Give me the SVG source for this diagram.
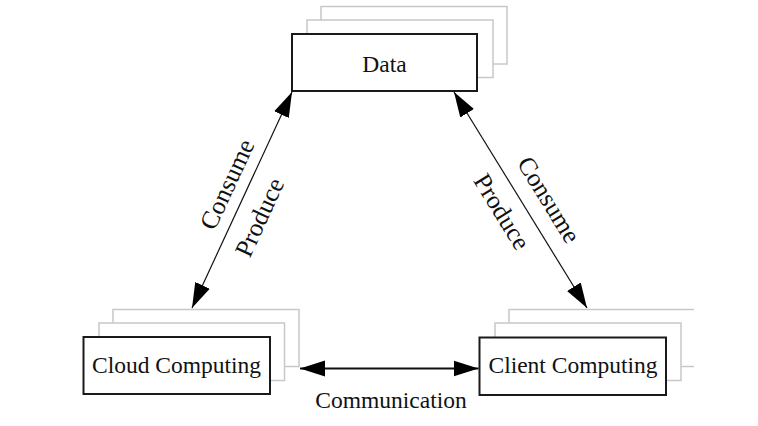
<svg xmlns="http://www.w3.org/2000/svg" width="758" height="426" viewBox="0 0 758 426">
<style>
.back{fill:#fff;stroke:#c8c8c8;stroke-width:1.5}
.main{fill:#fff;stroke:#1a1a1a;stroke-width:2}
.lbl{font-family:"Liberation Serif","Times New Roman",serif;font-size:23.5px;fill:#111}
.dl{font-size:25.5px}
.conn{stroke:#111;fill:none}
</style>
<defs>
<marker id="ah" markerUnits="userSpaceOnUse" markerWidth="26" markerHeight="18" viewBox="0 -9 26 18" refX="25" refY="0" orient="auto-start-reverse">
<path d="M0,-8 L25,0 L0,8 z" fill="#000"/>
</marker>
</defs>
<rect width="758" height="426" fill="#fff"/>
<g id="data">
<rect class="back" x="321" y="6.5" width="186" height="57.5"/>
<rect class="back" x="307" y="20" width="186" height="57.5"/>
<rect class="main" x="292" y="34" width="185" height="57"/>
<text class="lbl" x="384.5" y="72" text-anchor="middle">Data</text>
</g>
<g id="cloud">
<rect class="back" x="113" y="309.5" width="186" height="57"/>
<rect class="back" x="99" y="323" width="185.5" height="57.5"/>
<rect class="main" x="83.5" y="337" width="186.5" height="57"/>
<text class="lbl" x="176.5" y="373" text-anchor="middle">Cloud Computing</text>
</g>
<g id="client">
<path class="back" d="M509,366 L509,309.5 L694,309.5 M681,366.5 L694,366.5" fill="none"/>
<rect class="back" x="495" y="323" width="186" height="57.5"/>
<rect class="main" x="479.5" y="337.5" width="186.5" height="57.5"/>
<text class="lbl" x="573" y="373" text-anchor="middle">Client Computing</text>
</g>
<g id="connectors">
<line class="conn" x1="292" y1="92" x2="192" y2="308" stroke-width="1.2" marker-start="url(#ah)" marker-end="url(#ah)"/>
<line class="conn" x1="454" y1="92" x2="587" y2="308" stroke-width="1.2" marker-start="url(#ah)" marker-end="url(#ah)"/>
<line class="conn" x1="300" y1="368.5" x2="478.5" y2="368.5" stroke-width="2" marker-start="url(#ah)" marker-end="url(#ah)"/>
<text class="lbl dl" transform="translate(227.5,184.5) rotate(-65.2)" y="8" text-anchor="middle">Consume</text>
<text class="lbl dl" transform="translate(260,217.5) rotate(-65.2)" y="8" text-anchor="middle">Produce</text>
<text class="lbl dl" transform="translate(548.5,200) rotate(58.4)" y="8" text-anchor="middle">Consume</text>
<text class="lbl dl" transform="translate(501.5,212) rotate(58.4)" y="8" text-anchor="middle">Produce</text>
<text class="lbl" x="391" y="408" text-anchor="middle">Communication</text>
</g>
</svg>
